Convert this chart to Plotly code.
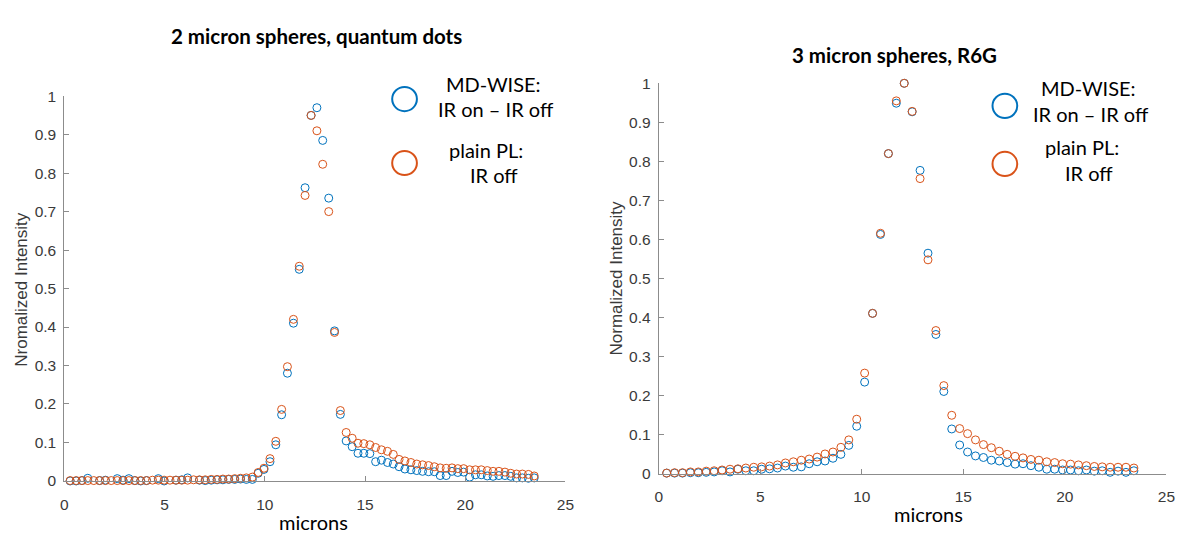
import plotly.graph_objects as go

W, H = 1183, 540

# ---- 2 micron spheres, quantum dots ----
qd_x = [0.29, 0.59, 0.88, 1.17, 1.47, 1.76, 2.05, 2.34, 2.64, 2.93,
        3.22, 3.52, 3.81, 4.10, 4.40, 4.69, 4.98, 5.27, 5.57, 5.86,
        6.15, 6.45, 6.74, 7.03, 7.33, 7.62, 7.91, 8.20, 8.50, 8.79,
        9.08, 9.38, 9.67, 9.96, 10.26, 10.55, 10.84, 11.13, 11.43, 11.72,
        12.01, 12.31, 12.60, 12.89, 13.19, 13.48, 13.77, 14.06, 14.36, 14.65,
        14.94, 15.24, 15.53, 15.82, 16.12, 16.41, 16.70, 16.99, 17.29, 17.58,
        17.87, 18.17, 18.46, 18.75, 19.05, 19.34, 19.63, 19.92, 20.22, 20.51,
        20.80, 21.10, 21.39, 21.68, 21.98, 22.27, 22.56, 22.85, 23.15, 23.44]
qd_mdwise = [0.000, 0.000, 0.001, 0.007, -0.005, 0.001, 0.002, -0.004, 0.006, 0.002,
             0.006, 0.001, 0.000, 0.001, -0.004, 0.006, 0.000, -0.002, 0.002, 0.003,
             0.008, -0.004, 0.002, 0.001, 0.002, 0.003, 0.003, 0.004, 0.004, 0.005,
             0.004, 0.004, 0.020, 0.030, 0.050, 0.094, 0.172, 0.280, 0.410, 0.550,
             0.762, 0.950, 0.970, 0.885, 0.735, 0.390, 0.173, 0.104, 0.089, 0.072,
             0.072, 0.071, 0.050, 0.054, 0.048, 0.044, 0.037, 0.031, 0.029, 0.027,
             0.025, 0.024, 0.024, 0.014, 0.014, 0.025, 0.022, 0.023, 0.010, 0.016,
             0.016, 0.013, 0.012, 0.014, 0.014, 0.012, 0.008, 0.008, 0.007, 0.008]
qd_plain = [0.001, 0.001, 0.001, 0.001, 0.001, 0.001, 0.001, 0.001, 0.001, 0.001,
            0.001, 0.001, 0.001, 0.001, 0.002, 0.002, 0.002, 0.002, 0.002, 0.002,
            0.002, 0.003, 0.003, 0.003, 0.004, 0.004, 0.005, 0.005, 0.006, 0.007,
            0.008, 0.010, 0.022, 0.033, 0.058, 0.103, 0.186, 0.297, 0.420, 0.558,
            0.742, 0.950, 0.910, 0.823, 0.700, 0.386, 0.183, 0.126, 0.111, 0.098,
            0.097, 0.094, 0.087, 0.081, 0.077, 0.069, 0.056, 0.052, 0.048, 0.044,
            0.042, 0.040, 0.037, 0.034, 0.033, 0.034, 0.032, 0.032, 0.029, 0.029,
            0.029, 0.027, 0.025, 0.025, 0.023, 0.020, 0.018, 0.018, 0.017, 0.013]

# ---- 3 micron spheres, R6G ----
r6g_x = [0.39, 0.78, 1.17, 1.56, 1.95, 2.34, 2.73, 3.12, 3.51, 3.90,
         4.29, 4.68, 5.07, 5.46, 5.85, 6.24, 6.63, 7.02, 7.41, 7.80,
         8.19, 8.58, 8.97, 9.36, 9.75, 10.14, 10.53, 10.92, 11.31, 11.70,
         12.09, 12.48, 12.87, 13.26, 13.65, 14.04, 14.43, 14.82, 15.21, 15.60,
         15.99, 16.38, 16.77, 17.16, 17.55, 17.94, 18.33, 18.72, 19.11, 19.50,
         19.89, 20.28, 20.67, 21.06, 21.45, 21.84, 22.23, 22.62, 23.01, 23.40]
r6g_mdwise = [0.002, 0.002, 0.002, 0.003, 0.003, 0.004, 0.005, 0.008, 0.005, 0.012,
              0.008, 0.008, 0.012, 0.013, 0.015, 0.020, 0.017, 0.018, 0.026, 0.031,
              0.033, 0.040, 0.050, 0.073, 0.122, 0.235, 0.411, 0.613, 0.820, 0.949,
              1.000, 0.927, 0.777, 0.565, 0.357, 0.211, 0.115, 0.074, 0.056, 0.046,
              0.042, 0.035, 0.033, 0.029, 0.025, 0.026, 0.021, 0.017, 0.012, 0.012,
              0.010, 0.010, 0.008, 0.010, 0.007, 0.008, 0.004, 0.007, 0.004, 0.008]
r6g_plain = [0.002, 0.003, 0.003, 0.005, 0.005, 0.007, 0.008, 0.010, 0.012, 0.013,
             0.015, 0.017, 0.018, 0.020, 0.023, 0.028, 0.031, 0.035, 0.038, 0.043,
             0.051, 0.056, 0.068, 0.087, 0.140, 0.258, 0.411, 0.616, 0.820, 0.955,
             1.000, 0.928, 0.756, 0.548, 0.367, 0.226, 0.150, 0.116, 0.103, 0.087,
             0.075, 0.067, 0.058, 0.050, 0.045, 0.041, 0.037, 0.035, 0.031, 0.029,
             0.026, 0.025, 0.023, 0.021, 0.019, 0.018, 0.017, 0.017, 0.017, 0.015]

titles = ["2 micron spheres, quantum dots", "3 micron spheres, R6G"]
y_titles = ["Nromalized Intensity", "Normalized Intensity"]
x_title = "microns"
legend_lines = [["MD-WISE:", "IR on \u2013 IR off"], ["plain PL:", "IR off"]]
x_ticks = [0, 5, 10, 15, 20, 25]

BLUE = "#0072BD"
ORANGE = "#D95319"
AXIS = "#8c8c8c"
TEXT = "#3a3a3a"
TICK_FONT = dict(family="Arial, Liberation Sans, sans-serif", size=15.5, color=TEXT)
CAL = "Lato, Carlito, Calibri, sans-serif"


def px(x):
    return x / W


def py(y):
    return 1 - y / H


fig = go.Figure()

panels = [
    dict(x=qd_x, s1=qd_mdwise, s2=qd_plain, xa="x", ya="y"),
    dict(x=r6g_x, s1=r6g_mdwise, s2=r6g_plain, xa="x2", ya="y2"),
]
for p in panels:
    for ys, col in ((p["s1"], BLUE), (p["s2"], ORANGE)):
        fig.add_trace(go.Scatter(
            x=p["x"], y=ys, mode="markers", xaxis=p["xa"], yaxis=p["ya"],
            cliponaxis=False, showlegend=False, hoverinfo="x+y",
            marker=dict(symbol="circle-open", size=8, color=col,
                        line=dict(width=1, color=col)),
        ))

# plot-area pixel boxes: (left, right, bottom, top)
boxes = [(61, 567.7, 487.3, 90.0), (662, 1175.3, 480.0, 76.7)]

axis_common = dict(showline=True, linecolor=AXIS, linewidth=1, mirror=False,
                   ticks="inside", ticklen=5, tickcolor=AXIS, tickwidth=1,
                   showgrid=False, zeroline=False, tickfont=TICK_FONT)

layout = dict(width=W, height=H, margin=dict(l=0, r=0, t=0, b=0),
              paper_bgcolor="white", plot_bgcolor="white", showlegend=False)
for k, (l, r, b, t) in enumerate(boxes):
    sx = "" if k == 0 else "2"
    layout["xaxis" + sx] = dict(axis_common, domain=[px(l), px(r)], range=[0, 25],
                                tickvals=x_ticks, anchor="y" + sx,
                                ticklabelstandoff=9)
    layout["yaxis" + sx] = dict(axis_common, domain=[py(b), py(t)], range=[0, 1],
                                dtick=0.1, tick0=0, anchor="x" + sx,
                                ticklabelstandoff=4)
fig.update_layout(**layout)

ann = []
shapes = []

# panel titles
title_pos = [(316, 28), (900, 48)]
for txt, (x, y) in zip(titles, title_pos):
    ann.append(dict(text="<b>" + txt + "</b>", x=px(x), y=py(y), xref="paper", yref="paper",
                    showarrow=False, xanchor="center", yanchor="middle",
                    font=dict(family=CAL, size=20.5, color="black")))

# axis titles
xt_pos = [(313, 530), (935, 521)]
for x, y in xt_pos:
    ann.append(dict(text=x_title, x=px(x), y=py(y), xref="paper", yref="paper",
                    showarrow=False, xanchor="center", yanchor="middle",
                    font=dict(family=CAL, size=20, color="black")))
yt_pos = [(18, 289), (619, 278)]
for txt, (x, y) in zip(y_titles, yt_pos):
    ann.append(dict(text=txt, x=px(x), y=py(y), xref="paper", yref="paper",
                    showarrow=False, xanchor="center", yanchor="middle", textangle=-90,
                    font=dict(family="Arial, Liberation Sans, sans-serif", size=17, color=TEXT)))

# legend keys: big open circles with two-line labels
legend_sets = [
    dict(circles=[(405, 93), (405, 159)],
         lines=[[(495, 77), (497, 103)], [(487, 146), (495, 171)]]),
    dict(circles=[(1012, 100), (1012, 160)],
         lines=[[(1097, 82), (1099, 108)], [(1090, 142), (1097, 169)]]),
]
for ls in legend_sets:
    for (cx, cy), col, texts, pos in zip(ls["circles"], (BLUE, ORANGE), legend_lines, ls["lines"]):
        r = 12.5
        shapes.append(dict(type="circle", xref="paper", yref="paper",
                           x0=px(cx - r), x1=px(cx + r), y0=py(cy + r), y1=py(cy - r),
                           line=dict(color=col, width=2)))
        for t, (tx, ty) in zip(texts, pos):
            ann.append(dict(text=t, x=px(tx), y=py(ty), xref="paper", yref="paper",
                            showarrow=False, xanchor="center", yanchor="middle",
                            font=dict(family=CAL, size=20, color="black")))

fig.update_layout(annotations=ann, shapes=shapes)
fig.write_html("out.html")
